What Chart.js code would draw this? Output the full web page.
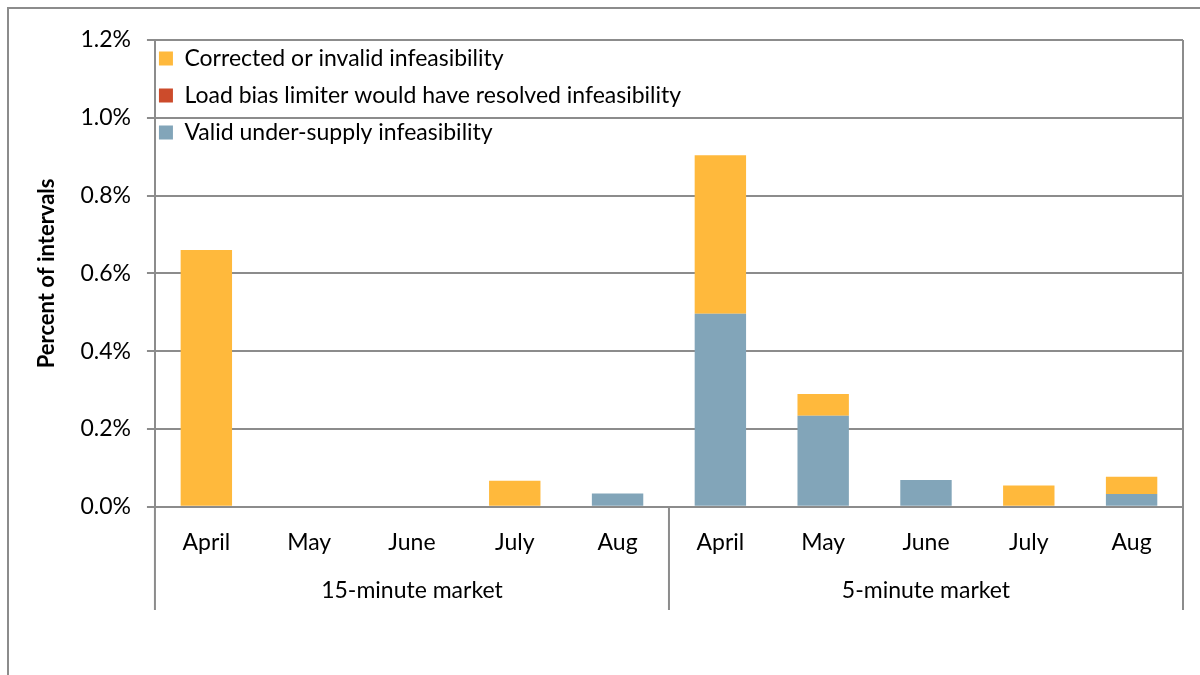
<!DOCTYPE html>
<html lang="en">

<head>
    <meta charset="UTF-8" />
    <title>Infeasibility intervals</title>
    <script src="https://cdn.jsdelivr.net/npm/chart.js"></script>
    <style>
        html, body { margin: 0; padding: 0; background: #fff; }
        #wrap { position: relative; width: 1200px; height: 675px; }
        #frame { position: absolute; left: 7px; top: 7px; right: 0; bottom: 0;
                 border-top: 2px solid #8c8c8c; border-left: 2px solid #8c8c8c; }
        #chart { position: absolute; left: 0; top: 0; }
    </style>
</head>

<body>
    <div id="wrap">
        <div id="frame"></div>
        <canvas id="chart" width="1200" height="675"></canvas>
    </div>

    <script>
        // categories
        const months = ['April', 'May', 'June', 'July', 'Aug', 'April', 'May', 'June', 'July', 'Aug'];
        const markets = ['15-minute market', '5-minute market'];

        // series values, percent of intervals
        const validUnderSupply = [0, 0, 0, 0, 0.034, 0.496, 0.234, 0.069, 0, 0.033];
        const loadBiasResolved = [0, 0, 0, 0, 0, 0, 0, 0, 0, 0];
        const correctedInvalid = [0.66, 0, 0, 0.067, 0, 0.408, 0.056, 0, 0.055, 0.044];

        const yTicks = [0, 0.2, 0.4, 0.6, 0.8, 1.0, 1.2];

        const lineGray = '#8c8c8c';
        const font = { family: 'Lato', size: 23 };

        // group dividers under the month labels + plot right edge
        const dividers = {
            id: 'dividers',
            afterDraw(chart) {
                const { ctx, chartArea } = chart;
                const x = chart.scales.x;
                const bottom = chart.scales.x2.bottom + 8;
                const mid = (x.getPixelForValue(4) + x.getPixelForValue(5)) / 2;
                ctx.save();
                ctx.strokeStyle = lineGray;
                ctx.lineWidth = 2;
                ctx.beginPath();
                ctx.moveTo(chartArea.left, chartArea.bottom);
                ctx.lineTo(chartArea.left, bottom);
                ctx.moveTo(mid, chartArea.bottom);
                ctx.lineTo(mid, bottom);
                ctx.moveTo(chartArea.right, chartArea.top);
                ctx.lineTo(chartArea.right, bottom);
                ctx.stroke();
                ctx.restore();
            }
        };

        // nudge the in-plot legend into the corner
        const legendNudge = {
            id: 'legendNudge',
            afterLayout(chart) {
                chart.legend.left -= 10;
                chart.legend.top += 33;
            }
        };

        new Chart(document.getElementById('chart'), {
            type: 'bar',
            data: {
                labels: months,
                datasets: [
                    { label: 'Valid under-supply infeasibility', data: validUnderSupply, backgroundColor: '#82a5b9' },
                    { label: 'Load bias limiter would have resolved infeasibility', data: loadBiasResolved, backgroundColor: '#cc4b2b' },
                    { label: 'Corrected or invalid infeasibility', data: correctedInvalid, backgroundColor: '#ffb93c' }
                ]
            },
            options: {
                responsive: false,
                animation: false,
                layout: { padding: { left: 34, top: 40, right: 17, bottom: 73 } },
                datasets: { bar: { categoryPercentage: 1, barPercentage: 0.5, borderWidth: 0 } },
                plugins: {
                    tooltip: { enabled: false },
                    legend: {
                        position: 'chartArea',
                        align: 'start',
                        reverse: true,
                        labels: { font, color: '#000', boxWidth: 14, boxHeight: 14, padding: 14 }
                    }
                },
                scales: {
                    x: {
                        stacked: true,
                        grid: { display: false },
                        border: { display: false },
                        ticks: { font, color: '#000', padding: 14, autoSkip: false, maxRotation: 0 }
                    },
                    x2: {
                        type: 'category',
                        labels: markets,
                        position: 'bottom',
                        grid: { display: false },
                        border: { display: false },
                        ticks: { font, color: '#000', padding: -2 }
                    },
                    y: {
                        stacked: true,
                        min: 0,
                        max: 1.2,
                        afterBuildTicks(axis) { axis.ticks = yTicks.map(v => ({ value: v })); },
                        grid: { color: lineGray, lineWidth: 2, tickLength: 8 },
                        border: { color: lineGray, width: 2 },
                        ticks: { font, color: '#000', padding: 16, callback: v => v.toFixed(1) + '%' },
                        title: {
                            display: true,
                            text: 'Percent of intervals',
                            color: '#000',
                            font: { family: 'Lato', size: 22, weight: 'bold' },
                            padding: { top: 0, bottom: 4 }
                        }
                    }
                }
            },
            plugins: [dividers, legendNudge]
        });
    </script>
</body>

</html>
